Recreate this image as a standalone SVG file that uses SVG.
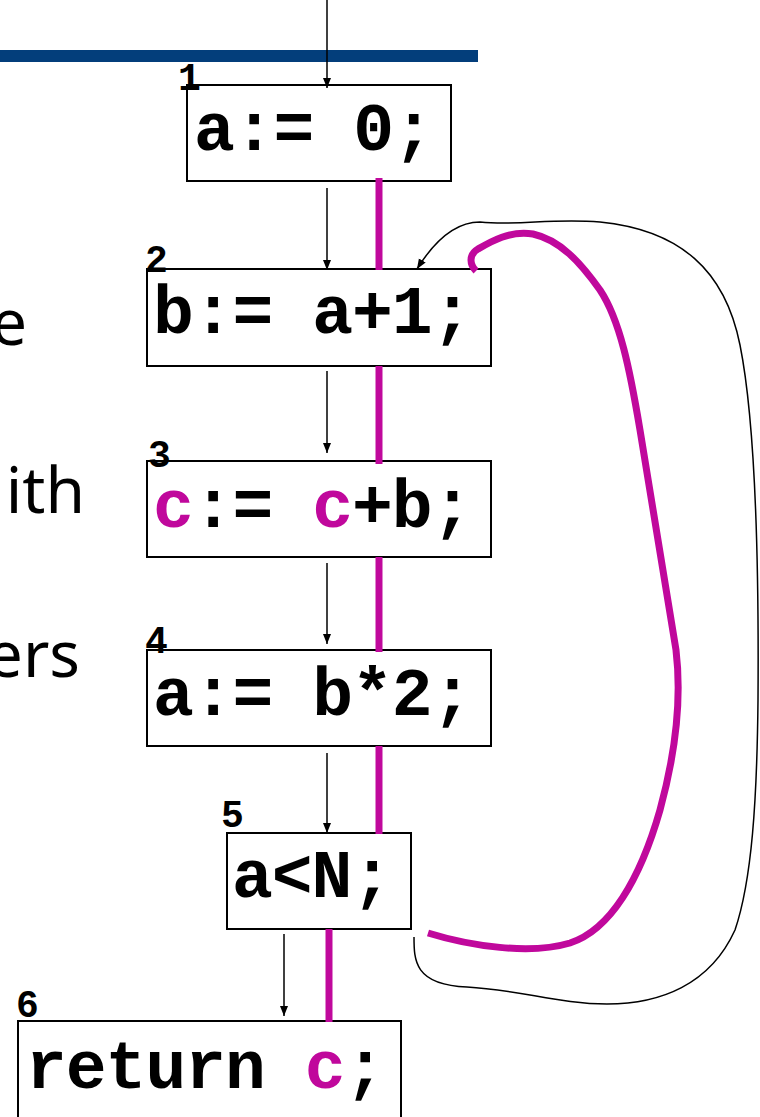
<svg xmlns="http://www.w3.org/2000/svg" width="760" height="1117" viewBox="0 0 760 1117">
<style>
.box{fill:#fff;stroke:#000;stroke-width:2}
.code{font-family:"Liberation Mono","Courier New",monospace;font-weight:bold;font-size:68px;letter-spacing:-1px;fill:#000}
.num{font-family:"Liberation Mono","Courier New",monospace;font-weight:bold;font-size:38px;fill:#000}
.mag{fill:#c0089c}
.side{font-family:"Comic Sans MS","Noto Sans",sans-serif;font-size:64px;fill:#000}
.edge{fill:none;stroke:#000;stroke-width:1.5}
.live{fill:none;stroke:#c0089c;stroke-width:7}
</style>
<defs>
<marker id="ah" viewBox="0 0 10 10" refX="10" refY="5" markerWidth="10" markerHeight="10" markerUnits="userSpaceOnUse" orient="auto">
<path d="M0,1 L10,5 L0,9 Z" fill="#000"/>
</marker>
</defs>
<rect x="0" y="50" width="478" height="12" fill="#033e7b"/>
<text class="side" x="27" y="345" text-anchor="end">e</text>
<text class="side" x="85" y="513" text-anchor="end">ith</text>
<text class="side" x="80" y="677" text-anchor="end">ers</text>
<g id="n1">
<rect class="box" x="187" y="85" width="264" height="96"/>
<text class="code" x="194" y="150">a:= 0;</text>
<text class="num" x="178" y="90">1</text>
</g>
<g id="n2">
<rect class="box" x="147" y="269" width="344" height="97"/>
<text class="code" x="153" y="333">b:= a+1;</text>
<text class="num" x="145" y="272">2</text>
</g>
<g id="n3">
<rect class="box" x="147" y="461" width="344" height="96"/>
<text class="code" x="153" y="527"><tspan class="mag">c</tspan>:= <tspan class="mag">c</tspan>+b;</text>
<text class="num" x="148" y="467">3</text>
</g>
<g id="n4">
<rect class="box" x="147" y="650" width="344" height="96"/>
<text class="code" x="153" y="715">a:= b*2;</text>
<text class="num" x="145" y="653">4</text>
</g>
<g id="n5">
<rect class="box" x="227" y="833" width="184" height="96"/>
<text class="code" x="232" y="897">a&lt;N;</text>
<text class="num" x="221" y="827">5</text>
</g>
<g id="n6">
<rect class="box" x="18" y="1021" width="383" height="110"/>
<text class="code" x="26" y="1088">return <tspan class="mag">c</tspan>;</text>
<text class="num" x="16" y="1017">6</text>
</g>
<g id="connectors">
<line class="edge" x1="327" y1="0" x2="327" y2="88" marker-end="url(#ah)"/>
<line class="edge" x1="327" y1="188" x2="327" y2="270" marker-end="url(#ah)"/>
<line class="edge" x1="327" y1="371" x2="327" y2="453" marker-end="url(#ah)"/>
<line class="edge" x1="327" y1="563" x2="327" y2="644" marker-end="url(#ah)"/>
<line class="edge" x1="327" y1="753" x2="327" y2="833" marker-end="url(#ah)"/>
<line class="edge" x1="284" y1="934" x2="284" y2="1016" marker-end="url(#ah)"/>
<path class="edge" d="M414,937 C414,960 414,985 467,987 C520,990 560,1004 607,1004 C660,1004 710,985 735,930 C752,880 757,800 758,700 C759,560 755,420 740,345 C725,270 680,230 600,222 C550,218 520,226 480,222 C455,222 435,240 417,269" marker-end="url(#ah)"/>
<line class="live" x1="379" y1="178" x2="379" y2="270"/>
<line class="live" x1="379" y1="366" x2="379" y2="464"/>
<line class="live" x1="379" y1="557" x2="379" y2="652"/>
<line class="live" x1="379" y1="746" x2="379" y2="834"/>
<line class="live" x1="329" y1="929" x2="329" y2="1022"/>
<path class="live" d="M428,933 C470,946 530,955 570,943 C610,930 640,880 660,810 C675,755 682,700 676,650 L640,430 C630,370 620,320 600,290 C580,262 560,240 533,234 C510,230 490,242 478,249 C468,255 470,265 476,271"/>
</g>
</svg>
